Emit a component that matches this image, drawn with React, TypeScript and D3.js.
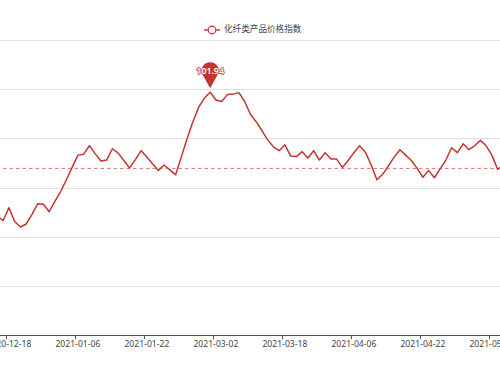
import React from "react";
import * as d3 from "d3";

// Series: 化纤类产品价格指数 (one value per category)
const seriesName = "化纤类产品价格指数";
const values: number[] = [
  99.42, 99.33, 99.59, 99.31, 99.2, 99.26, 99.45, 99.67, 99.66, 99.51,
  99.72, 99.92, 100.16, 100.41, 100.66, 100.68, 100.85, 100.69, 100.54, 100.56,
  100.79, 100.7, 100.55, 100.4, 100.57, 100.75, 100.62, 100.48, 100.35, 100.46,
  100.36, 100.26, 100.63, 101.0, 101.34, 101.63, 101.82, 101.94, 101.78, 101.75,
  101.89, 101.9, 101.93, 101.75, 101.49, 101.34, 101.16, 100.97, 100.83, 100.75,
  100.87, 100.64, 100.63, 100.73, 100.6, 100.75, 100.56, 100.71, 100.58, 100.58,
  100.41, 100.55, 100.71, 100.85, 100.72, 100.46, 100.16, 100.27, 100.44, 100.62,
  100.77, 100.66, 100.55, 100.39, 100.21, 100.35, 100.2, 100.38, 100.56, 100.81,
  100.71, 100.89, 100.77, 100.85, 100.96, 100.85, 100.66, 100.37, 100.46,
];
// Category labels shown on the axis (every 12th category), and their category index
const tickLabels: string[] = [
  "2020-12-18", "2021-01-06", "2021-01-22", "2021-03-02",
  "2021-03-18", "2021-04-06", "2021-04-22", "2021-05-13",
];
const tickIndices: number[] = [2, 14, 26, 38, 50, 62, 74, 86];
const averageValue = 100.39;
const yTicks: number[] = [97, 98, 99, 100, 101, 102, 103];

const RED = "#c23531";
const FONT = "'Noto Sans', 'Noto Sans CJK SC', sans-serif";

export default function App() {
  const W = 500, H = 375;
  const idx = values.map((_, i) => i);
  const x = d3.scaleBand<number>().domain(idx).range([-5.475, -5.475 + values.length * 5.75]).padding(0);
  const cx = (i: number) => (x(i) as number) + x.bandwidth() / 2;
  const y = d3.scaleLinear().domain([97, 103]).range([335.2, 40]);

  const line = d3.line<number>().x((_, i) => cx(i)).y((d) => y(d));
  const maxV = d3.max(values) as number;
  const maxI = values.indexOf(maxV);
  const px = cx(maxI);
  const tipY = y(maxV) - 4;
  const r = 8.5;
  const ccy = tipY - 17.5;
  const a = Math.acos(r / 17.5);
  const tx = r * Math.sin(a);
  const ty = r * Math.cos(a);
  const pinPath = `M${px},${tipY} L${px - tx},${ccy + ty} A${r},${r} 0 1 1 ${px + tx},${ccy + ty} Z`;

  return (
    <svg width={W} height={H} style={{ position: "absolute", left: 0, top: 0, background: "#fff" }} fontFamily={FONT}>
      {/* grid */}
      {yTicks.slice(1).map((t) => (
        <line key={t} x1={-10} x2={W + 10} y1={Math.round(y(t)) + 0.5} y2={Math.round(y(t)) + 0.5} stroke="#e0e0e0" strokeWidth={1} />
      ))}
      {/* x axis */}
      <line x1={-10} x2={W + 10} y1={Math.round(y(97)) + 0.5} y2={Math.round(y(97)) + 0.5} stroke="#555" strokeWidth={1} />
      {tickIndices.map((ti, k) => {
        const tx0 = Math.round(x(ti) as number) + 0.5;
        return (
          <g key={k}>
            <line x1={tx0} x2={tx0} y1={y(97)} y2={y(97) + 4} stroke="#555" strokeWidth={1} />
            <text x={cx(ti)} y={y(97) + 9} textAnchor="middle" dominantBaseline="middle" fontSize={8.6} fill="#444">
              {tickLabels[k]}
            </text>
          </g>
        );
      })}
      {/* average mark line */}
      <line x1={-10} x2={W + 10} y1={y(averageValue)} y2={y(averageValue)} stroke={RED} strokeOpacity={0.85} strokeWidth={0.8} strokeDasharray="3.5,3" />
      {/* series line */}
      <path d={line(values) || ""} fill="none" stroke={RED} strokeWidth={1.5} strokeLinejoin="round" />
      {/* max mark point */}
      <path d={pinPath} fill={RED} />
      <text x={px} y={ccy + 1} textAnchor="middle" dominantBaseline="middle" fontSize={8.8} fontWeight={600}
        fill="#fff" stroke={RED} strokeWidth={1.6} paintOrder="stroke" strokeLinejoin="round">
        {maxV.toFixed(2)}
      </text>
      {/* legend */}
      <g>
        <line x1={204} x2={220} y1={30} y2={30} stroke={RED} strokeWidth={1.4} />
        <circle cx={212} cy={30} r={3.8} fill="#fff" stroke={RED} strokeWidth={1.2} />
        <text x={224} y={30} dominantBaseline="middle" fontSize={8.6} fill="#444">
          {seriesName}
        </text>
      </g>
    </svg>
  );
}
